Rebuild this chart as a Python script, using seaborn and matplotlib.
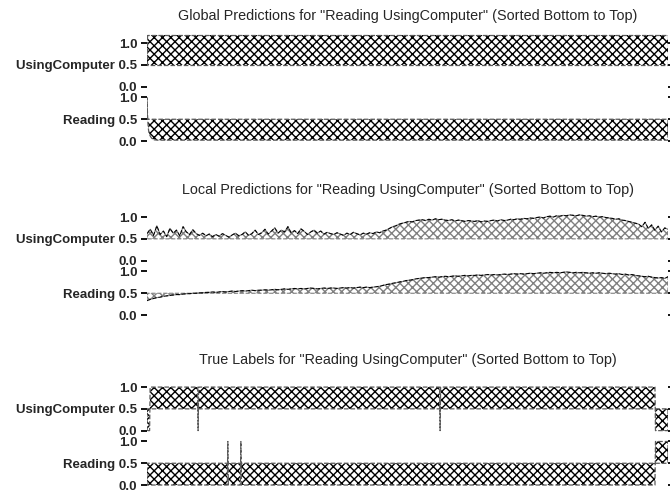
import numpy as np
import matplotlib
matplotlib.use("Agg")
import matplotlib.pyplot as plt
import seaborn as sns

# ---------------- data ----------------
labels = ["Reading", "UsingComputer"]
title_query = "Reading UsingComputer"
n_samples = 1000

# Global predictions (values at sample indices)
global_idx = [0, 1, 2, 3, 4, 6, 8, 10, 12, 20, 999]
global_reading = [1.0, 0.6, 0.38, 0.25, 0.18, 0.12, 0.08, 0.05, 0.03, 0.02, 0.02]
global_using = [1.18, 1.18, 1.18, 1.18, 1.18, 1.18, 1.18, 1.18, 1.18, 1.18, 1.18]

# Local predictions (evenly spaced samples)
local_using = [
    0.62, 0.72, 0.58, 0.80, 0.60, 0.68, 0.55, 0.74, 0.63, 0.70, 0.57, 0.78, 0.66, 0.60, 0.71, 0.62,
    0.58, 0.63, 0.57, 0.61, 0.55, 0.60, 0.56, 0.62, 0.58, 0.54, 0.59, 0.63, 0.57, 0.60, 0.66, 0.58,
    0.62, 0.70, 0.60, 0.64,
    0.72, 0.61, 0.68, 0.75, 0.63, 0.70, 0.66, 0.78, 0.64, 0.69, 0.62, 0.73, 0.67, 0.60, 0.66, 0.70,
    0.63, 0.68, 0.61, 0.65, 0.62,
    0.60, 0.64, 0.61, 0.58, 0.63, 0.60, 0.65, 0.62, 0.59, 0.63, 0.61, 0.64, 0.62, 0.66, 0.64,
    0.68, 0.70, 0.74, 0.78, 0.80, 0.84, 0.86, 0.88, 0.90, 0.89, 0.92, 0.93,
    0.94, 0.92, 0.95, 0.93, 0.96, 0.94, 0.95, 0.93, 0.92, 0.94, 0.91, 0.93, 0.92, 0.90, 0.92, 0.91,
    0.90, 0.92, 0.89, 0.91, 0.90, 0.92, 0.93, 0.91, 0.94, 0.92, 0.93, 0.95, 0.94, 0.96, 0.95, 0.97,
    0.96, 0.98, 0.97,
    0.99, 1.00, 0.98, 1.01, 1.02, 1.00, 1.03, 1.02, 1.04, 1.03, 1.05, 1.04, 1.03, 1.05, 1.04, 1.02,
    1.03, 1.01, 1.02, 1.00, 1.01,
    0.99, 0.98, 0.97, 0.95, 0.96, 0.93, 0.92, 0.90, 0.88, 0.86,
    0.84, 0.78, 0.88, 0.74, 0.82, 0.70, 0.79, 0.66, 0.75, 0.72,
]
local_reading = [
    0.33, 0.36, 0.38, 0.40, 0.41, 0.43, 0.44, 0.45, 0.46, 0.47, 0.47, 0.48, 0.49, 0.49, 0.50, 0.50,
    0.51, 0.51, 0.52, 0.52, 0.53, 0.52, 0.53, 0.54, 0.53, 0.54, 0.55, 0.54, 0.55, 0.56, 0.55, 0.56,
    0.57, 0.56, 0.57, 0.57,
    0.58, 0.57, 0.58, 0.59, 0.58, 0.59, 0.60, 0.59, 0.60, 0.61, 0.60, 0.61, 0.60, 0.61, 0.62, 0.61,
    0.60, 0.61, 0.62, 0.61, 0.62,
    0.62, 0.61, 0.62, 0.63, 0.62, 0.63, 0.62, 0.63, 0.64, 0.63, 0.64, 0.63, 0.64, 0.65, 0.66,
    0.68, 0.70, 0.71, 0.73, 0.74, 0.76, 0.77, 0.79, 0.80, 0.81, 0.83, 0.84,
    0.85, 0.86, 0.86, 0.87, 0.88, 0.87, 0.88, 0.89, 0.88, 0.89, 0.90, 0.89, 0.90, 0.91, 0.90, 0.91,
    0.91, 0.92, 0.91, 0.92, 0.93, 0.92, 0.93, 0.92, 0.93, 0.94, 0.93, 0.94, 0.95, 0.94, 0.95, 0.94,
    0.95, 0.96, 0.95,
    0.96, 0.97, 0.96, 0.97, 0.98, 0.97, 0.98, 0.97, 0.98, 0.99, 0.98, 0.97, 0.98, 0.97, 0.98, 0.97,
    0.96, 0.97, 0.96, 0.97, 0.96,
    0.95, 0.96, 0.95, 0.94, 0.95, 0.93, 0.94, 0.92, 0.93, 0.91,
    0.90, 0.89, 0.88, 0.89, 0.87, 0.86, 0.85, 0.86, 0.84, 0.88,
]

# True labels: sample indices where the label differs from the majority
true_using_zero_idx = [0, 1, 2, 3, 4, 5, 98, 562] + list(range(975, 1000))
true_reading_one_idx = [155, 180] + list(range(975, 1000))

# ---------------- build series ----------------
true_using = np.ones(n_samples)
true_using[true_using_zero_idx] = 0.0
true_reading = np.zeros(n_samples)
true_reading[true_reading_one_idx] = 1.0
true_x = np.arange(n_samples)
local_x = np.linspace(0, n_samples - 1, len(local_using))

sections = [
    ("Global Predictions", np.array(global_idx), np.array(global_reading), np.array(global_using), "black"),
    ("Local Predictions", local_x, np.array(local_reading), np.array(local_using), "0.5"),
    ("True Labels", true_x, true_reading, true_using, "black"),
]

# ---------------- style ----------------
sns.set_theme(style="white")
plt.rcParams["font.family"] = ["Liberation Sans", "DejaVu Sans"]
plt.rcParams["hatch.linewidth"] = 1.0

fig = plt.figure(figsize=(6.7, 4.93), dpi=100)
W, H = 670.0, 493.0
ax_left, ax_right = 147.0, 668.0
ax_h = 111.0
bottoms_px = [143.2, 317.2, 487.2]
offsets = [0.0, 1.25]

for (name, xs, r_vals, u_vals, hcolor), bpx in zip(sections, bottoms_px):
    ax = fig.add_axes([ax_left / W, (H - bpx) / H, (ax_right - ax_left) / W, ax_h / H])
    for off, vals in zip(offsets, [r_vals, u_vals]):
        ax.fill_between(xs, off + 0.5, off + vals, facecolor="none",
                        edgecolor=hcolor, hatch="xxxx", linewidth=0)
        if name == "Local Predictions":
            ax.fill_between(xs, off + 0.5, off + vals, facecolor="none",
                            edgecolor="0.5", linestyle="--", linewidth=0.8)
            sns.lineplot(x=xs, y=off + vals, ax=ax, color="black",
                         linewidth=0.8, linestyle="--")
        else:
            ax.fill_between(xs, off + 0.5, off + vals, facecolor="none",
                            edgecolor="0.35", linestyle="--", linewidth=0.9)
    ax.set_xlim(0, n_samples - 1)
    ax.set_ylim(-0.05, 2.5)
    ax.set_xticks([])
    ax.set_yticks([0.0, 0.5, 1.0, 1.25, 1.75, 2.25])
    ax.set_yticklabels(["0.0", "Reading 0.5", "1.0", "0.0", "UsingComputer 0.5", "1.0"],
                       fontsize=9.5, fontweight="bold")
    ax.tick_params(axis="y", which="both", left=True, right=True, labelright=False,
                   direction="out", length=4, width=1.3, color="black", pad=3)
    for sp in ax.spines.values():
        sp.set_visible(False)
    ax.set_title(f'{name} for "{title_query}" (Sorted Bottom to Top)', fontsize=10.4, pad=8.5)

fig.savefig("out.png", dpi=100)
